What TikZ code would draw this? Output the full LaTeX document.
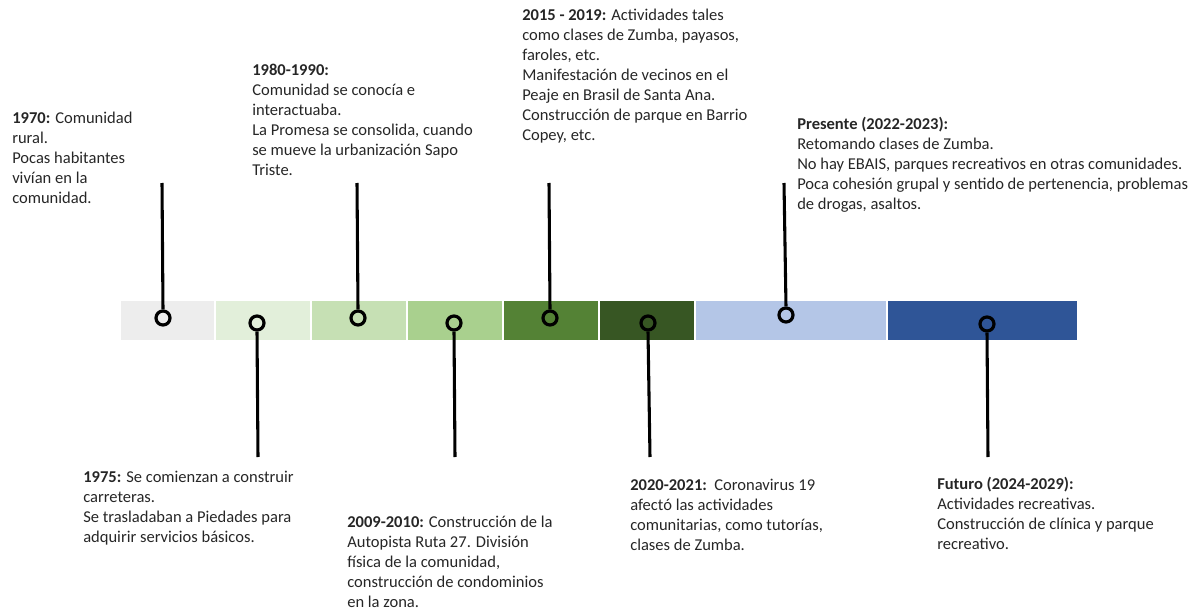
\documentclass[tikz,border=0pt]{standalone}
\usepackage{fontspec}
\setmainfont{Carlito}
\begin{document}
\begin{tikzpicture}[x=0.75pt,y=-0.75pt,
  seg/.style={draw=white,line width=1.2pt},
  ring/.style={circle,draw=black,line width=2.4pt,minimum size=10.5pt,inner sep=0pt},
  stem/.style={line width=2.3pt,draw=black},
  lbl/.style={anchor=north west,inner sep=0pt,align=left,font=\fontsize{12.4pt}{15pt}\selectfont,text=black!85}]
\useasboundingbox (0,0) rectangle (1189,610);
\definecolor{c1}{HTML}{EDEDED}
\definecolor{c2}{HTML}{E2EFDA}
\definecolor{c3}{HTML}{C6E0B4}
\definecolor{c4}{HTML}{A9D08E}
\definecolor{c5}{HTML}{548235}
\definecolor{c6}{HTML}{375623}
\definecolor{c7}{HTML}{B4C6E7}
\definecolor{c8}{HTML}{2F5597}
% bar
\fill[c1,seg] (120,300) rectangle (215,341);
\fill[c2,seg] (215,300) rectangle (311,341);
\fill[c3,seg] (311,300) rectangle (407,341);
\fill[c4,seg] (407,300) rectangle (503,341);
\fill[c5,seg] (503,300) rectangle (599,341);
\fill[c6,seg] (599,300) rectangle (695,341);
\fill[c7,seg] (695,300) rectangle (887,341);
\fill[c8,seg] (887,300) rectangle (1078,341);
% rings
\node[ring] (r1) at (163,318) {};
\node[ring] (r2) at (257,323) {};
\node[ring] (r3) at (358,318) {};
\node[ring] (r4) at (454,323) {};
\node[ring] (r5) at (550,318) {};
\node[ring] (r6) at (648,323) {};
\node[ring] (r7) at (786,315) {};
\node[ring] (r8) at (987,324) {};
% stem ends
\coordinate (e1) at (162,183);
\coordinate (e2) at (258,457);
\coordinate (e3) at (357,183);
\coordinate (e4) at (455,457);
\coordinate (e5) at (549,183);
\coordinate (e6) at (650,457);
\coordinate (e7) at (784,183);
\coordinate (e8) at (988,457);
\draw[stem] (e1) -- (r1.north);
\draw[stem] (r2.south) -- (e2);
\draw[stem] (e3) -- (r3.north);
\draw[stem] (r4.south) -- (e4);
\draw[stem] (e5) -- (r5.north);
\draw[stem] (r6.south) -- (e6);
\draw[stem] (e7) -- (r7.north);
\draw[stem] (r8.south) -- (e8);
% labels
\node[lbl] (t1) at (12,112) {\textbf{1970:} Comunidad\\rural.\\Pocas habitantes\\vivían en la\\comunidad.};
\node[lbl] (t2) at (83,471) {\textbf{1975:} Se comienzan a construir\\carreteras.\\Se trasladaban a Piedades para\\adquirir servicios básicos.};
\node[lbl] (t3) at (252,64) {\textbf{1980-1990:}\\Comunidad se conocía e\\interactuaba.\\La Promesa se consolida, cuando\\se mueve la urbanización Sapo\\Triste.};
\node[lbl] (t4) at (347,516) {\textbf{2009-2010:} Construcción de la\\Autopista Ruta 27. División\\física de la comunidad,\\construcción de condominios\\en la zona.};
\node[lbl] (t5) at (522,9) {\textbf{2015 - 2019:} Actividades tales\\como clases de Zumba, payasos,\\faroles, etc.\\Manifestación de vecinos en el\\Peaje en Brasil de Santa Ana.\\Construcción de parque en Barrio\\Copey, etc.};
\node[lbl] (t6) at (630,479) {\textbf{2020-2021:}\ \ Coronavirus 19\\afectó las actividades\\comunitarias, como tutorías,\\clases de Zumba.};
\node[lbl] (t7) at (797,117) {\textbf{Presente (2022-2023):}\\Retomando clases de Zumba.\\No hay EBAIS, parques recreativos en otras comunidades.\\Poca cohesión grupal y sentido de pertenencia, problemas\\de drogas, asaltos.};
\node[lbl] (t8) at (937,477) {\textbf{Futuro (2024-2029):}\\Actividades recreativas.\\Construcción de clínica y parque\\recreativo.};
\end{tikzpicture}
\end{document}
